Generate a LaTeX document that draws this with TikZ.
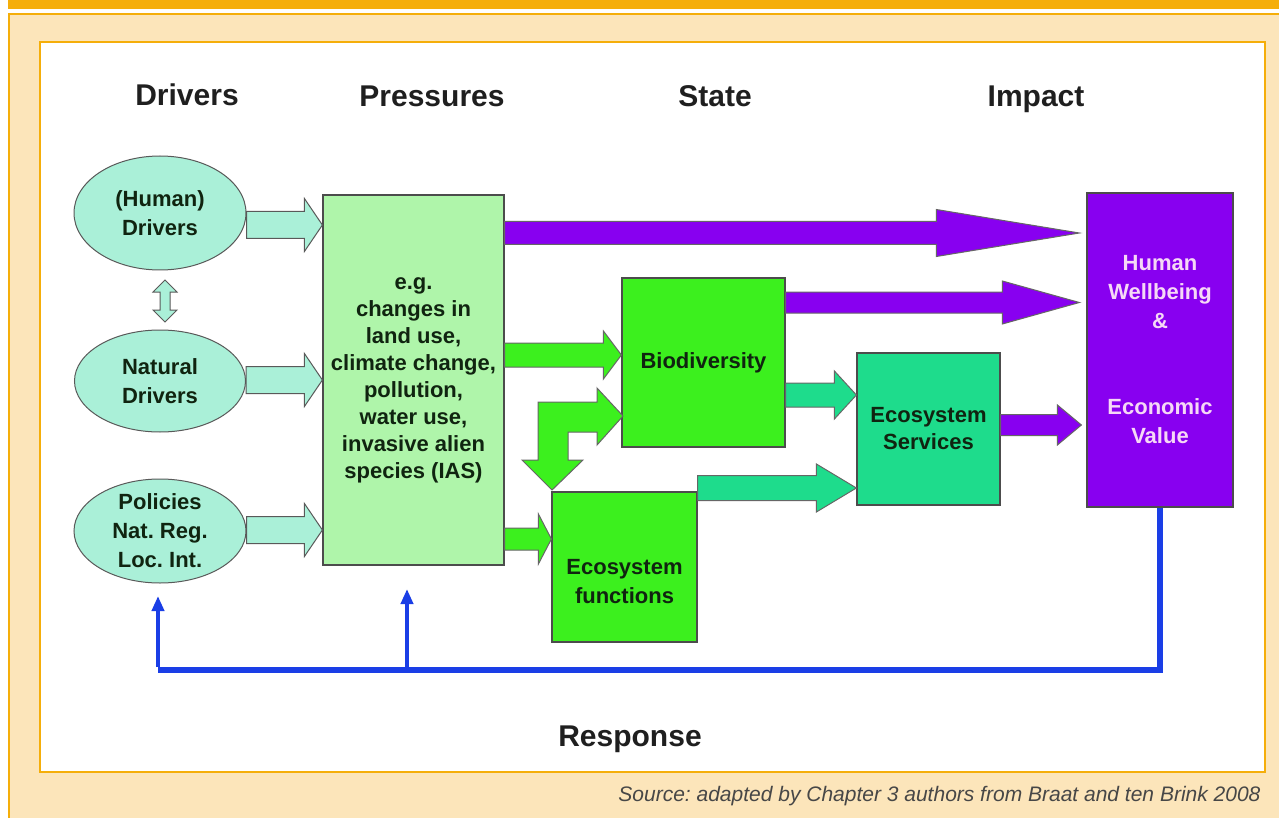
\documentclass[tikz,border=0pt]{standalone}
\usepackage{fontspec}
\setmainfont{Liberation Sans}
\usepackage{xcolor}
\usepackage{tikz}
\usetikzlibrary{shapes.geometric}
\usetikzlibrary{arrows.meta}
\usetikzlibrary{calc}
\definecolor{framebar}{HTML}{F5AE0A}
\definecolor{framecream}{HTML}{FCE5BA}
\definecolor{driveraqua}{HTML}{AAF0D8}
\definecolor{pressgreen}{HTML}{AFF5AA}
\definecolor{stategreen}{HTML}{3CF01E}
\definecolor{serviceteal}{HTML}{1EDC8C}
\definecolor{impactviolet}{HTML}{8800F0}
\definecolor{responseblue}{HTML}{1A3EE6}
\definecolor{darktext}{HTML}{102410}
\definecolor{impacttext}{HTML}{F6D8F6}
\frenchspacing
\tikzset{header/.style={anchor=base, font=\fontsize{30}{34}\selectfont\bfseries, text=black!88},
         driver/.style={ellipse, draw=black!65, line width=1pt, fill=driveraqua, inner sep=0pt,
                        align=center, text=darktext, font=\fontsize{22}{29}\selectfont\bfseries},
         box/.style={rectangle, draw=black!70, line width=1.2pt, inner sep=2pt, align=center,
                     text=darktext, font=\fontsize{22}{27}\selectfont\bfseries},
         boxtext/.style={align=center, text=darktext, font=\fontsize{22}{29}\selectfont\bfseries},
         drvarrow/.style={draw=black!65, line width=1pt, fill=driveraqua},
         greenarrow/.style={draw=black!60, line width=1pt, fill=stategreen},
         tealarrow/.style={draw=black!60, line width=1pt, fill=serviceteal},
         violetarrow/.style={draw=black!60, line width=1pt, fill=impactviolet},
         fbline/.style={draw=responseblue, line width=6pt},
         fbarrow/.style={draw=responseblue, line width=4pt, -{Triangle[length=15pt,width=12pt]}}}
% block arrow: style, start, end, half shaft, half head, head length
\newcommand{\fatarrow}[6]{%
  \draw[#1] let \p1=(#2), \p2=(#3) in
    (\x1,{\y1+#4pt}) -- ({\x2-#6pt},{\y1+#4pt}) -- ({\x2-#6pt},{\y1+#5pt}) -- (\x2,\y1)
    -- ({\x2-#6pt},{\y1-#5pt}) -- ({\x2-#6pt},{\y1-#4pt}) -- (\x1,{\y1-#4pt}) -- cycle;}
\begin{document}
\begin{tikzpicture}[x=1pt,y=-1pt]
\useasboundingbox (0,0) rectangle (1279,818);
\fill[white] (0,0) rectangle (1279,818);
\fill[framebar] (8,0) rectangle (1279,9);
\fill[framecream] (8,13) rectangle (1279,818);
\draw[framebar, line width=2pt] (8,14) -- (1279,14);
\draw[framebar, line width=1.5pt] (8.75,13) -- (8.75,818);
\draw[framebar, line width=2pt, fill=white] (40,42) rectangle (1265,772);

\node[header] (hdrivers) at (187,106) {Drivers};
\node[header] (hpressures) at (432,107) {Pressures};
\node[header] (hstate) at (715,107) {State};
\node[header] (himpact) at (1036,107) {Impact};
\node[header] (hresponse) at (630,746) {Response};

\node[driver, minimum width=172pt, minimum height=114pt] (hum) at (160,213) {(Human)\\Drivers};
\node[driver, minimum width=171pt, minimum height=102pt] (nat) at (160,381) {Natural\\Drivers};
\node[driver, minimum width=172pt, minimum height=104pt, inner ysep=-5pt] (pol) at (160,531) {Policies\\Nat. Reg.\\Loc. Int.};

\node[box, fill=pressgreen, minimum width=181pt, minimum height=370pt] (press) at (413.5,380)
  {e.g.\\changes in\\land use,\\climate change,\\pollution,\\water use,\\invasive alien\\species (IAS)};
\node[box, fill=stategreen, minimum width=163pt, minimum height=169pt] (biodiv) at (703.5,362.5) {Biodiversity};
\node[box, fill=stategreen, minimum width=145pt, minimum height=150pt,
      label={[name=ecofuntext, boxtext, yshift=-15pt]center:{Ecosystem\\functions}}] (ecofun) at (624.5,567) {};
\node[box, fill=serviceteal, minimum width=143pt, minimum height=152pt] (services) at (928.5,429) {Ecosystem\\Services};
\node[box, fill=impactviolet, text=impacttext, font=\fontsize{22}{29}\selectfont\bfseries,
      minimum width=146pt, minimum height=314pt] (wellbeing) at (1160,350)
  {Human\\Wellbeing\\\&\\[57pt]Economic\\Value};

\fatarrow{drvarrow}{hum.east |- 0,225}{press.west |- 0,225}{13.5}{26.5}{18}
\fatarrow{drvarrow}{nat.east |- 0,380}{press.west |- 0,380}{13.5}{26.5}{18}
\fatarrow{drvarrow}{pol.east |- 0,530}{press.west |- 0,530}{13.5}{26.5}{18}
\draw[drvarrow] (165,280) -- (177,292) -- (170,292) -- (170,310) -- (177,310) -- (165,322)
  -- (153,310) -- (160,310) -- (160,292) -- (153,292) -- cycle;

\fatarrow{violetarrow}{press.east |- 0,233}{$(wellbeing.west |- 0,233)+(-7,0)$}{11.5}{23.5}{143}
\fatarrow{violetarrow}{biodiv.east |- 0,302.5}{$(wellbeing.west |- 0,302.5)+(-7,0)$}{10.5}{21.5}{77}
\fatarrow{violetarrow}{services.east |- 0,425}{$(wellbeing.west |- 0,425)+(-5,0)$}{10.5}{20}{24}

\fatarrow{greenarrow}{press.east |- 0,355}{biodiv.west |- 0,355}{12}{24}{18}
\fatarrow{greenarrow}{press.east |- 0,539}{ecofun.west |- 0,539}{11}{25}{13}
\draw[greenarrow] (552,490) -- (583,460) -- (568,460) -- (568,432) -- (597,432) -- (597,445)
  -- (623,416) -- (597,388) -- (597,402) -- (538,402) -- (538,460) -- (522,460) -- cycle;

\fatarrow{tealarrow}{biodiv.east |- 0,395}{services.west |- 0,395}{12}{24}{22}
\fatarrow{tealarrow}{ecofun.east |- 0,488}{services.west |- 0,488}{12.5}{24}{40}

\coordinate (fbleft) at (158,670);
\coordinate (fbmid) at (407,670);
\coordinate (polin) at (158,596);
\coordinate (pressin) at (407,589);
\draw[fbline] (wellbeing.south) |- (fbleft);
\draw[fbarrow] ([yshift=3pt]fbleft) -- (polin);
\draw[fbarrow] ([yshift=3pt]fbmid) -- (pressin);

\node[anchor=base east, text=black!72, font=\fontsize{21}{24}\selectfont\itshape] (source) at (1264,801)
  {Source: adapted by Chapter 3 authors from Braat and ten Brink 2008};
\end{tikzpicture}
\end{document}
